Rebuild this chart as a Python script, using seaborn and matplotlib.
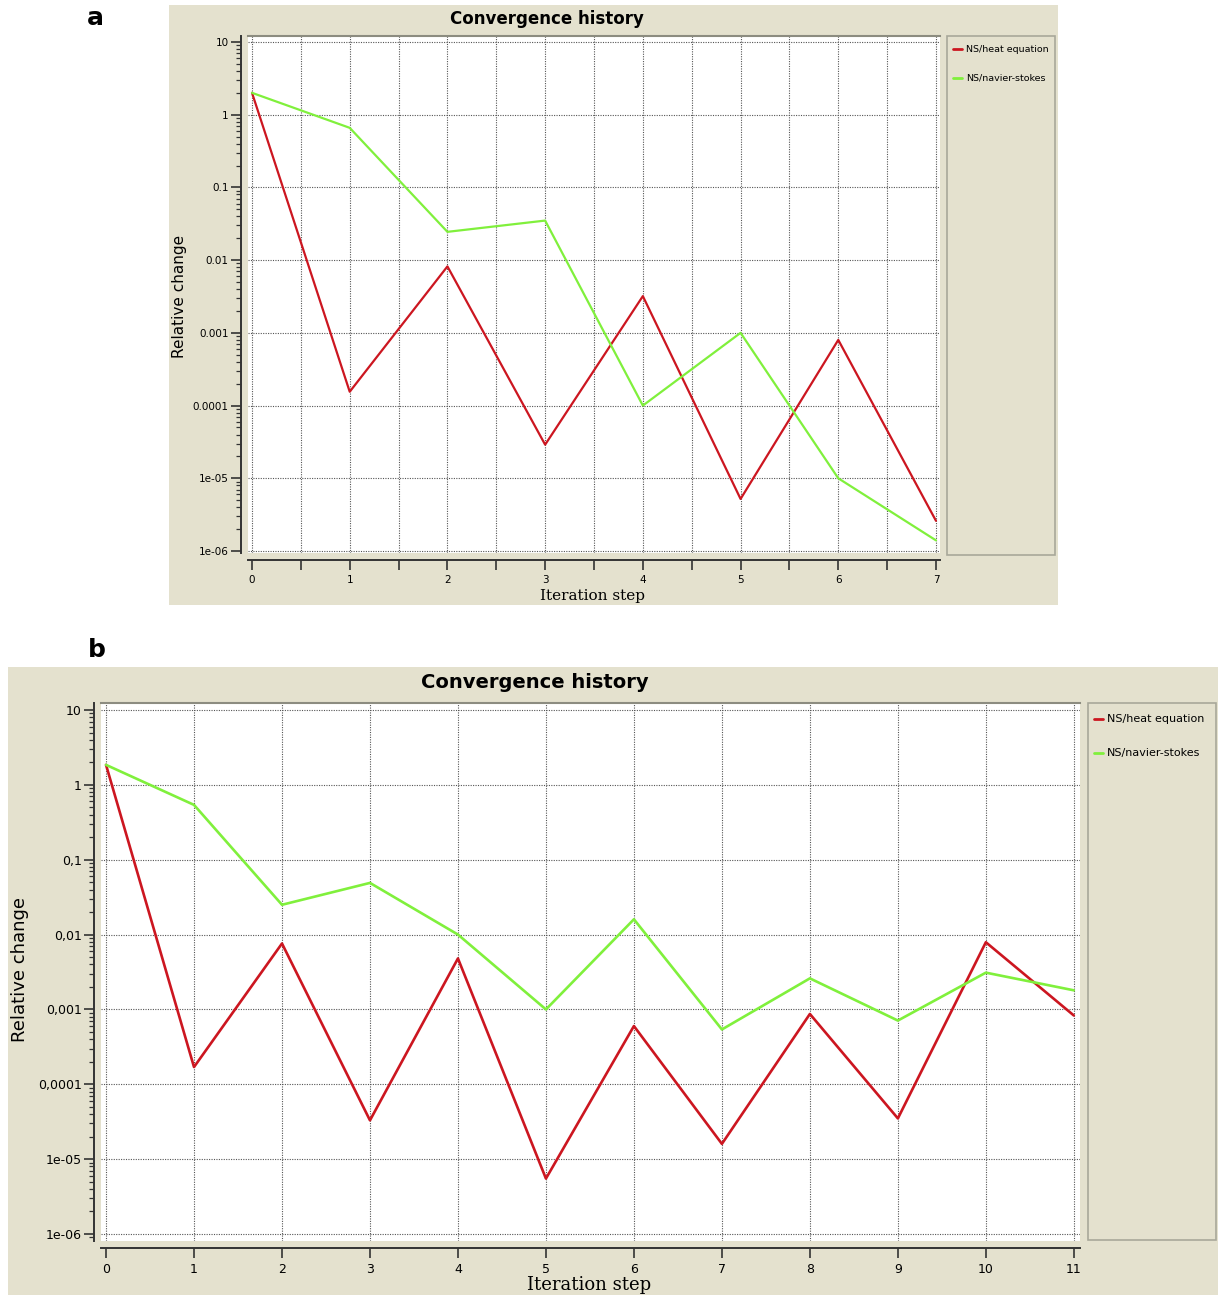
import numpy as np
import pandas as pd
import matplotlib
matplotlib.use("Agg")
import matplotlib.pyplot as plt
from matplotlib.patches import Rectangle
from matplotlib.lines import Line2D
from matplotlib.ticker import FixedLocator, FixedFormatter, LogLocator, NullFormatter, MultipleLocator
import seaborn as sns

# ---------------- data ----------------
series_names = ["NS/heat equation", "NS/navier-stokes"]

steps_a = [0, 1, 2, 3, 4, 5, 6, 7]
heat_a = [2.0, 1.55e-4, 8.2e-3, 2.9e-5, 3.2e-3, 5.2e-6, 8.0e-4, 2.6e-6]
ns_a = [2.0, 0.66, 0.0245, 0.035, 1.0e-4, 1.0e-3, 1.0e-5, 1.4e-6]

steps_b = [0, 1, 2, 3, 4, 5, 6, 7, 8, 9, 10, 11]
heat_b = [1.85, 1.7e-4, 7.6e-3, 3.3e-5, 4.8e-3, 5.5e-6, 6.0e-4, 1.6e-5, 8.7e-4, 3.5e-5, 7.9e-3, 8.3e-4]
ns_b = [1.85, 0.54, 0.025, 0.049, 0.010, 1.0e-3, 0.016, 5.4e-4, 2.6e-3, 7.1e-4, 3.1e-3, 1.8e-3]

ytick_vals = [10, 1, 0.1, 0.01, 0.001, 0.0001, 1e-05, 1e-06]
ytick_labels_a = ["10", "1", "0.1", "0.01", "0.001", "0.0001", "1e-05", "1e-06"]
ytick_labels_b = ["10", "1", "0,1", "0,01", "0,001", "0,0001", "1e-05", "1e-06"]

title_text = "Convergence history"
xlabel_text = "Iteration step"
ylabel_text = "Relative change"

# ---------------- style ----------------
sns.set_theme(style="white")
plt.rcParams['font.family'] = ['DejaVu Sans']
plt.rcParams['text.color'] = 'black'
plt.rcParams['xtick.color'] = 'black'
plt.rcParams['ytick.color'] = 'black'
plt.rcParams['xtick.labelcolor'] = 'black'
plt.rcParams['ytick.labelcolor'] = 'black'

W, H = 1222, 1295
BEIGE = "#E4E1CE"
RED = "#CC1620"
GREEN = "#80F03C"
GRID = "#555555"
palette = {series_names[0]: RED, series_names[1]: GREEN}

fig = plt.figure(figsize=(W / 100, H / 100), dpi=100)
fig.patch.set_facecolor("white")


def fx(px):
    return px / W


def fy(py):
    return 1 - py / H


def rect(x0, y0, x1, y1, **kw):
    r = Rectangle((fx(x0), fy(y1)), fx(x1) - fx(x0), fy(y0) - fy(y1),
                  transform=fig.transFigure, **kw)
    fig.patches.append(r)


def make_df(steps, heat, ns):
    return pd.DataFrame({
        "step": list(steps) * 2,
        "value": list(heat) + list(ns),
        "series": [series_names[0]] * len(steps) + [series_names[1]] * len(steps),
    })


def panel(box, plot, legend_box, xlim, ylim_exp, steps, heat, ns, ylabels,
          fs_tick, fs_title, fs_label, fs_leg, title_xy, ylab_xy, xlab_xy,
          minor_half, leg_rows, lw):
    # beige panel background
    rect(*box, facecolor=BEIGE, edgecolor="none", zorder=-20)
    # legend box
    rect(*legend_box, facecolor=BEIGE, edgecolor="#A8A89A", linewidth=1.2, zorder=-10)

    x0, y0, x1, y1 = plot
    ax = fig.add_axes([fx(x0), fy(y1), fx(x1) - fx(x0), fy(y0) - fy(y1)])
    ax.set_facecolor("white")

    df = make_df(steps, heat, ns)
    sns.lineplot(data=df, x="step", y="value", hue="series", palette=palette,
                 linewidth=lw, legend=False, ax=ax, zorder=3)
    ax.set_yscale("log")
    ax.set_xlim(*xlim)
    ax.set_ylim(10 ** ylim_exp[0], 10 ** ylim_exp[1])

    ax.yaxis.set_major_locator(FixedLocator(ytick_vals))
    ax.yaxis.set_major_formatter(FixedFormatter(ylabels))
    ax.yaxis.set_minor_locator(LogLocator(base=10, subs=np.arange(2, 10), numticks=20))
    ax.yaxis.set_minor_formatter(NullFormatter())
    ax.xaxis.set_major_locator(MultipleLocator(1))
    if minor_half:
        ax.xaxis.set_minor_locator(MultipleLocator(0.5))

    ax.spines["right"].set_visible(False)
    ax.spines["top"].set_color("#8C8C80")
    ax.spines["top"].set_linewidth(1.5)
    ax.spines["left"].set_position(("outward", 5))
    ax.spines["bottom"].set_position(("outward", 5))
    for s in ["left", "bottom"]:
        ax.spines[s].set_color("#333333")
        ax.spines[s].set_linewidth(1.4)

    ax.tick_params(axis="y", which="major", direction="out", length=7, width=1.2,
                   color="#333333", labelsize=fs_tick, pad=2, left=True)
    ax.tick_params(axis="y", which="minor", direction="out", length=3.5, width=0.9,
                   color="#333333", left=True)
    ax.tick_params(axis="x", which="both", direction="out", length=7, width=1.2,
                   color="#333333", labelsize=fs_tick, pad=4, bottom=True)

    ax.yaxis.grid(True, which="major", color=GRID, linestyle=(0, (1, 1.2)), linewidth=0.8)
    ax.xaxis.grid(True, which="both" if minor_half else "major", color=GRID,
                  linestyle=(0, (1, 1.2)), linewidth=0.8)
    ax.set_axisbelow(True)
    ax.set_xlabel("")
    ax.set_ylabel("")

    fig.text(fx(title_xy[0]), fy(title_xy[1]), title_text, fontsize=fs_title,
             fontweight="bold", ha="center", va="center")
    fig.text(fx(ylab_xy[0]), fy(ylab_xy[1]), ylabel_text, fontsize=fs_label,
             rotation=90, ha="center", va="center")
    fig.text(fx(xlab_xy[0]), fy(xlab_xy[1]), xlabel_text, fontsize=fs_label,
             family="DejaVu Serif", ha="center", va="center")

    # legend
    lx0, ly0, lx1, ly1 = legend_box
    for name, yy in zip(series_names, leg_rows):
        fig.lines.append(Line2D([fx(lx0 + 6), fx(lx0 + 15)], [fy(yy), fy(yy)],
                                transform=fig.transFigure, color=palette[name],
                                linewidth=2))
        fig.text(fx(lx0 + 19), fy(yy), name, fontsize=fs_leg, ha="left", va="center")
    return ax


# panel a
panel(box=(169, 5, 1058, 605), plot=(248, 36, 940, 553),
      legend_box=(947, 36, 1055, 555),
      xlim=(-0.041, 7.041), ylim_exp=(-6.0275, 1.0825),
      steps=steps_a, heat=heat_a, ns=ns_a, ylabels=ytick_labels_a,
      fs_tick=7.5, fs_title=12, fs_label=11, fs_leg=6.8,
      title_xy=(547, 19), ylab_xy=(179, 296), xlab_xy=(593, 596),
      minor_half=True, leg_rows=(49, 78), lw=1.6)

# panel b
panel(box=(8, 667, 1218, 1300), plot=(101, 703, 1080, 1241),
      legend_box=(1088, 703, 1216, 1240),
      xlim=(-0.057, 11.07), ylim_exp=(-6.0935, 1.0935),
      steps=steps_b, heat=heat_b, ns=ns_b, ylabels=ytick_labels_b,
      fs_tick=9, fs_title=14, fs_label=13, fs_leg=8,
      title_xy=(535, 683), ylab_xy=(20, 970), xlab_xy=(589, 1285),
      minor_half=False, leg_rows=(719, 753), lw=1.9)

fig.text(fx(95), fy(18), "a", fontsize=18, fontweight="bold", ha="center", va="center")
fig.text(fx(97), fy(650), "b", fontsize=18, fontweight="bold", ha="center", va="center")

fig.savefig("out.png", dpi=100)
